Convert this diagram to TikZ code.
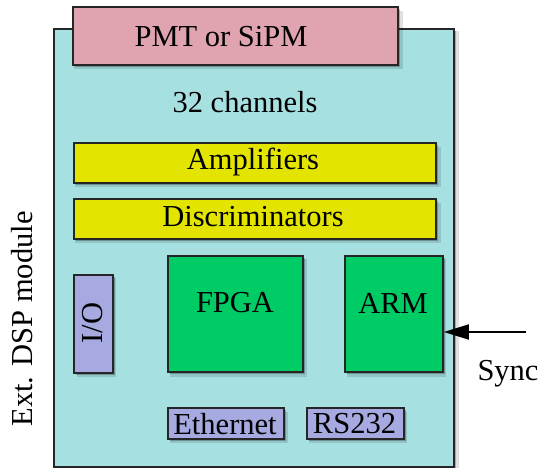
\documentclass[tikz,border=0pt]{standalone}
\usepackage{fontspec}
\setmainfont{Liberation Serif}
\usetikzlibrary{shadows,arrows.meta}
\definecolor{cmain}{HTML}{A6E0E1}
\definecolor{cpink}{HTML}{E0A3B0}
\definecolor{cyel}{HTML}{E3E500}
\definecolor{cgreen}{HTML}{00CC66}
\definecolor{clav}{HTML}{A6AAE0}
\begin{document}
\begin{tikzpicture}[x=1pt,y=-1pt,
  every node/.style={font=\fontsize{30.5}{34}\selectfont},
  blk/.style={draw=black!85,line width=1.8pt,
    general shadow={fill=black,opacity=0.12,shadow xshift=3pt,shadow yshift=-4pt,shadow scale=1.01},
    drop shadow={fill=black,opacity=0.25,shadow xshift=2pt,shadow yshift=-2.5pt}},
  lbl/.style={inner sep=0pt},
  syncarrow/.style={line width=1.8pt,arrows={-Stealth[length=25pt,width=15pt,inset=0pt]}}]
\useasboundingbox (0,0) rectangle (539,468);
% main module
\node[blk,fill=cmain,minimum width=400pt,minimum height=438pt,anchor=north west] (main) at (53,28) {};
\node[blk,fill=cpink,minimum width=325pt,minimum height=58pt,anchor=north west] (pmt) at (72,6) {};
\node[lbl] (pmtt) at (221,37) {PMT or SiPM};
\node[lbl] (ch) at (245,102) {32 channels};
\node[blk,fill=cyel,minimum width=362pt,minimum height=40pt,anchor=north west] (amp) at (73,142) {};
\node[lbl] (ampt) at (253,162) {Amplifiers};
\node[blk,fill=cyel,minimum width=362pt,minimum height=40pt,anchor=north west] (disc) at (73,198) {};
\node[lbl] (disct) at (253,217) {Discriminators};
\node[blk,fill=clav,minimum width=39pt,minimum height=98pt,anchor=north west] (io) at (73,274) {};
\node[lbl,rotate=90] (iot) at (93,323) {I/O};
\node[blk,fill=cgreen,minimum width=135pt,minimum height=116pt,anchor=north west] (fpga) at (167,255) {};
\node[lbl] (fpgat) at (235,303) {FPGA};
\node[blk,fill=cgreen,minimum width=98pt,minimum height=116pt,anchor=north west] (arm) at (344,255) {};
\node[lbl] (armt) at (393,303) {ARM};
\node[blk,fill=clav,minimum width=116pt,minimum height=31pt,anchor=north west] (eth) at (167,407) {};
\node[lbl] (etht) at (225,424) {Ethernet};
\node[blk,fill=clav,minimum width=97pt,minimum height=31pt,anchor=north west] (rs) at (306,407) {};
\node[lbl] (rst) at (354.5,424) {RS232};
\node[lbl,rotate=90] (ext) at (22,319) {Ext. DSP module};
\node[lbl] (sync) at (508,374) {Sync};
\coordinate (syncin) at (526,332);
\draw[syncarrow] (syncin) -- (arm.east |- syncin);
\end{tikzpicture}
\end{document}
